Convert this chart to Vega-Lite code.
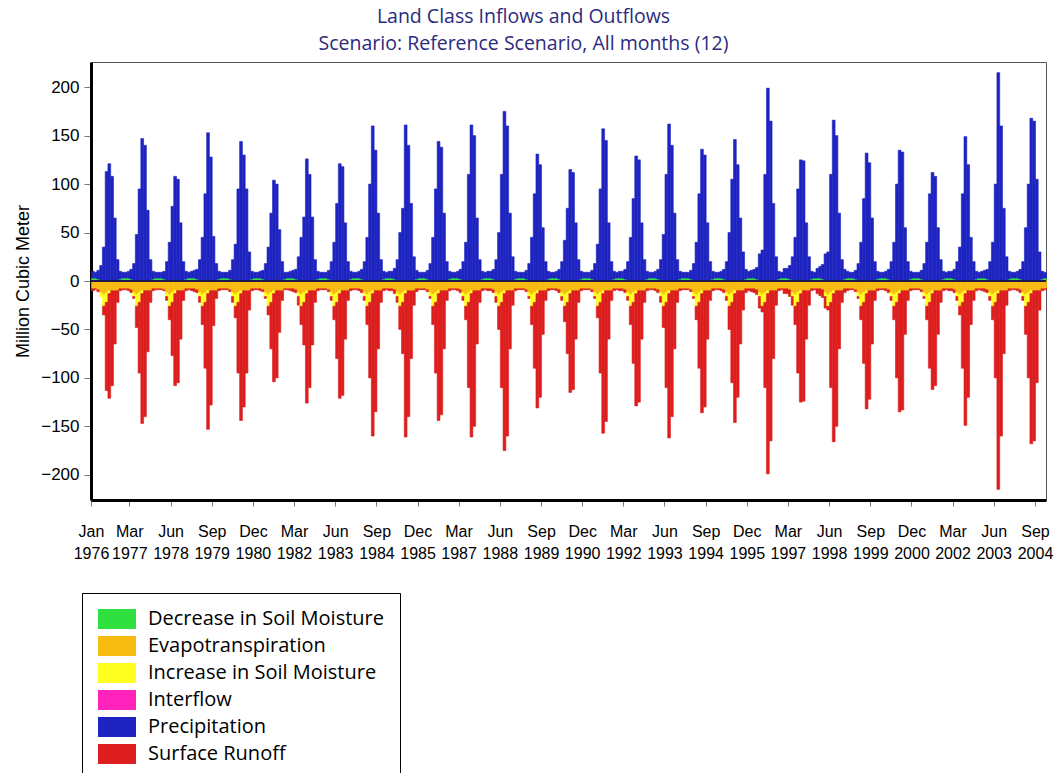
{
"$schema": "https://vega.github.io/schema/vega-lite/v6.json",
"width": 955,
"height": 438,
"autosize": {"type": "none"},
"padding": {"left": 91, "top": 62, "right": 12, "bottom": 273},
"background": "white",
"title": {"text": ["Land Class Inflows and Outflows", "Scenario: Reference Scenario,  All months (12)"], "font": "Open Sans", "fontSize": 19.5, "fontWeight": "normal", "color": "#2b2b7d", "anchor": "middle", "dx": -45, "lineHeight": 26.5, "offset": 8},
"config": {"view": {"stroke": "#555555", "strokeWidth": 1}},
"layer": [
{
"data": {"values": [
{"d":"1976-01","pre":7,"dec":3,"et":-8,"run":-2},
{"d":"1976-02","pre":6,"dec":3,"et":-8,"run":-1},
{"d":"1976-03","pre":9,"dec":2,"et":-9,"run":-2},
{"d":"1976-04","pre":16,"et":-12,"inc":-4,"run":0},
{"d":"1976-05","pre":35,"et":-14,"inc":-12,"run":-9},
{"d":"1976-06","pre":113,"et":-12,"inc":-10,"run":-91},
{"d":"1976-07","pre":121,"et":-10,"inc":-3,"run":-108},
{"d":"1976-08","pre":108,"et":-10,"run":-98},
{"d":"1976-09","pre":65,"et":-10,"run":-55},
{"d":"1976-10","pre":22,"et":-10,"run":-12},
{"d":"1976-11","pre":8,"dec":2,"et":-8,"run":-2},
{"d":"1976-12","pre":6,"dec":3,"et":-8,"run":-1},
{"d":"1977-01","pre":6,"dec":3,"et":-8,"run":-1},
{"d":"1977-02","pre":7,"dec":3,"et":-8,"run":-2},
{"d":"1977-03","pre":10,"dec":2,"et":-9,"run":-3},
{"d":"1977-04","pre":18,"et":-12,"inc":-4,"run":-2},
{"d":"1977-05","pre":48,"et":-14,"inc":-12,"run":-22},
{"d":"1977-06","pre":95,"et":-12,"inc":-10,"run":-73},
{"d":"1977-07","pre":147,"et":-10,"inc":-3,"run":-134},
{"d":"1977-08","pre":140,"et":-10,"run":-130},
{"d":"1977-09","pre":73,"et":-10,"run":-63},
{"d":"1977-10","pre":22,"et":-10,"run":-12},
{"d":"1977-11","pre":8,"dec":2,"et":-8,"run":-2},
{"d":"1977-12","pre":6,"dec":3,"et":-8,"run":-1},
{"d":"1978-01","pre":6,"dec":3,"et":-8,"run":-1},
{"d":"1978-02","pre":6,"dec":3,"et":-8,"run":-1},
{"d":"1978-03","pre":8,"dec":2,"et":-9,"run":-1},
{"d":"1978-04","pre":20,"et":-12,"inc":-4,"run":-4},
{"d":"1978-05","pre":40,"et":-14,"inc":-12,"run":-14},
{"d":"1978-06","pre":77,"et":-12,"inc":-10,"run":-55},
{"d":"1978-07","pre":108,"et":-10,"inc":-3,"run":-95},
{"d":"1978-08","pre":105,"et":-10,"run":-95},
{"d":"1978-09","pre":60,"et":-10,"run":-50},
{"d":"1978-10","pre":20,"et":-10,"run":-10},
{"d":"1978-11","pre":8,"dec":2,"et":-8,"run":-2},
{"d":"1978-12","pre":6,"dec":3,"et":-8,"run":-1},
{"d":"1979-01","pre":7,"dec":3,"et":-8,"run":-2},
{"d":"1979-02","pre":8,"dec":3,"et":-8,"run":-3},
{"d":"1979-03","pre":10,"dec":2,"et":-9,"run":-3},
{"d":"1979-04","pre":22,"et":-12,"inc":-4,"run":-6},
{"d":"1979-05","pre":45,"et":-14,"inc":-12,"run":-19},
{"d":"1979-06","pre":90,"et":-12,"inc":-10,"run":-68},
{"d":"1979-07","pre":153,"et":-10,"inc":-3,"run":-140},
{"d":"1979-08","pre":128,"et":-10,"run":-118},
{"d":"1979-09","pre":46,"et":-10,"run":-36},
{"d":"1979-10","pre":18,"et":-10,"run":-8},
{"d":"1979-11","pre":8,"dec":2,"et":-8,"run":-2},
{"d":"1979-12","pre":6,"dec":3,"et":-8,"run":-1},
{"d":"1980-01","pre":6,"dec":3,"et":-8,"run":-1},
{"d":"1980-02","pre":6,"dec":3,"et":-8,"run":-1},
{"d":"1980-03","pre":9,"dec":2,"et":-9,"run":-2},
{"d":"1980-04","pre":22,"et":-12,"inc":-4,"run":-6},
{"d":"1980-05","pre":38,"et":-14,"inc":-12,"run":-12},
{"d":"1980-06","pre":95,"et":-12,"inc":-10,"run":-73},
{"d":"1980-07","pre":144,"et":-10,"inc":-3,"run":-131},
{"d":"1980-08","pre":130,"et":-10,"run":-120},
{"d":"1980-09","pre":95,"et":-10,"run":-85},
{"d":"1980-10","pre":30,"et":-10,"run":-20},
{"d":"1980-11","pre":8,"dec":2,"et":-8,"run":-2},
{"d":"1980-12","pre":6,"dec":3,"et":-8,"run":-1},
{"d":"1981-01","pre":6,"dec":3,"et":-8,"run":-1},
{"d":"1981-02","pre":7,"dec":3,"et":-8,"run":-2},
{"d":"1981-03","pre":9,"dec":2,"et":-9,"run":-2},
{"d":"1981-04","pre":18,"et":-12,"inc":-4,"run":-2},
{"d":"1981-05","pre":35,"et":-14,"inc":-12,"run":-9},
{"d":"1981-06","pre":70,"et":-12,"inc":-10,"run":-48},
{"d":"1981-07","pre":104,"et":-10,"inc":-3,"run":-91},
{"d":"1981-08","pre":100,"et":-10,"run":-90},
{"d":"1981-09","pre":53,"et":-10,"run":-43},
{"d":"1981-10","pre":20,"et":-10,"run":-10},
{"d":"1981-11","pre":7,"dec":2,"et":-8,"run":-1},
{"d":"1981-12","pre":6,"dec":3,"et":-8,"run":-1},
{"d":"1982-01","pre":7,"dec":3,"et":-8,"run":-2},
{"d":"1982-02","pre":8,"dec":3,"et":-8,"run":-3},
{"d":"1982-03","pre":10,"dec":2,"et":-9,"run":-3},
{"d":"1982-04","pre":25,"et":-12,"inc":-4,"run":-9},
{"d":"1982-05","pre":45,"et":-14,"inc":-12,"run":-19},
{"d":"1982-06","pre":66,"et":-12,"inc":-10,"run":-44},
{"d":"1982-07","pre":126,"et":-10,"inc":-3,"run":-113},
{"d":"1982-08","pre":110,"et":-10,"run":-100},
{"d":"1982-09","pre":66,"et":-10,"run":-56},
{"d":"1982-10","pre":22,"et":-10,"run":-12},
{"d":"1982-11","pre":8,"dec":2,"et":-8,"run":-2},
{"d":"1982-12","pre":6,"dec":3,"et":-8,"run":-1},
{"d":"1983-01","pre":6,"dec":3,"et":-8,"run":-1},
{"d":"1983-02","pre":6,"dec":3,"et":-8,"run":-1},
{"d":"1983-03","pre":9,"dec":2,"et":-9,"run":-2},
{"d":"1983-04","pre":20,"et":-12,"inc":-4,"run":-4},
{"d":"1983-05","pre":40,"et":-14,"inc":-12,"run":-14},
{"d":"1983-06","pre":80,"et":-12,"inc":-10,"run":-58},
{"d":"1983-07","pre":121,"et":-10,"inc":-3,"run":-108},
{"d":"1983-08","pre":118,"et":-10,"run":-108},
{"d":"1983-09","pre":60,"et":-10,"run":-50},
{"d":"1983-10","pre":20,"et":-10,"run":-10},
{"d":"1983-11","pre":8,"dec":2,"et":-8,"run":-2},
{"d":"1983-12","pre":6,"dec":3,"et":-8,"run":-1},
{"d":"1984-01","pre":6,"dec":3,"et":-8,"run":-1},
{"d":"1984-02","pre":7,"dec":3,"et":-8,"run":-2},
{"d":"1984-03","pre":10,"dec":2,"et":-9,"run":-3},
{"d":"1984-04","pre":20,"et":-12,"inc":-4,"run":-4},
{"d":"1984-05","pre":45,"et":-14,"inc":-12,"run":-19},
{"d":"1984-06","pre":100,"et":-12,"inc":-10,"run":-78},
{"d":"1984-07","pre":160,"et":-10,"inc":-3,"run":-147},
{"d":"1984-08","pre":135,"et":-10,"run":-125},
{"d":"1984-09","pre":70,"et":-10,"run":-60},
{"d":"1984-10","pre":22,"et":-10,"run":-12},
{"d":"1984-11","pre":8,"dec":2,"et":-8,"run":-2},
{"d":"1984-12","pre":6,"dec":3,"et":-8,"run":-1},
{"d":"1985-01","pre":7,"dec":3,"et":-8,"run":-2},
{"d":"1985-02","pre":7,"dec":3,"et":-8,"run":-2},
{"d":"1985-03","pre":11,"dec":2,"et":-9,"run":-4},
{"d":"1985-04","pre":22,"et":-12,"inc":-4,"run":-6},
{"d":"1985-05","pre":50,"et":-14,"inc":-12,"run":-24},
{"d":"1985-06","pre":75,"et":-12,"inc":-10,"run":-53},
{"d":"1985-07","pre":161,"et":-10,"inc":-3,"run":-148},
{"d":"1985-08","pre":140,"et":-10,"run":-130},
{"d":"1985-09","pre":80,"et":-10,"run":-70},
{"d":"1985-10","pre":25,"et":-10,"run":-15},
{"d":"1985-11","pre":9,"dec":2,"et":-8,"run":-3},
{"d":"1985-12","pre":6,"dec":3,"et":-8,"run":-1},
{"d":"1986-01","pre":6,"dec":3,"et":-8,"run":-1},
{"d":"1986-02","pre":6,"dec":3,"et":-8,"run":-1},
{"d":"1986-03","pre":9,"dec":2,"et":-9,"run":-2},
{"d":"1986-04","pre":18,"et":-12,"inc":-4,"run":-2},
{"d":"1986-05","pre":45,"et":-14,"inc":-12,"run":-19},
{"d":"1986-06","pre":95,"et":-12,"inc":-10,"run":-73},
{"d":"1986-07","pre":144,"et":-10,"inc":-3,"run":-131},
{"d":"1986-08","pre":138,"et":-10,"run":-128},
{"d":"1986-09","pre":70,"et":-10,"run":-60},
{"d":"1986-10","pre":20,"et":-10,"run":-10},
{"d":"1986-11","pre":8,"dec":2,"et":-8,"run":-2},
{"d":"1986-12","pre":6,"dec":3,"et":-8,"run":-1},
{"d":"1987-01","pre":6,"dec":3,"et":-8,"run":-1},
{"d":"1987-02","pre":7,"dec":3,"et":-8,"run":-2},
{"d":"1987-03","pre":10,"dec":2,"et":-9,"run":-3},
{"d":"1987-04","pre":20,"et":-12,"inc":-4,"run":-4},
{"d":"1987-05","pre":40,"et":-14,"inc":-12,"run":-14},
{"d":"1987-06","pre":110,"et":-12,"inc":-10,"run":-88},
{"d":"1987-07","pre":161,"et":-10,"inc":-3,"run":-148},
{"d":"1987-08","pre":150,"et":-10,"run":-140},
{"d":"1987-09","pre":65,"et":-10,"run":-55},
{"d":"1987-10","pre":22,"et":-10,"run":-12},
{"d":"1987-11","pre":8,"dec":2,"et":-8,"run":-2},
{"d":"1987-12","pre":6,"dec":3,"et":-8,"run":-1},
{"d":"1988-01","pre":7,"dec":3,"et":-8,"run":-2},
{"d":"1988-02","pre":7,"dec":3,"et":-8,"run":-2},
{"d":"1988-03","pre":10,"dec":2,"et":-9,"run":-3},
{"d":"1988-04","pre":22,"et":-12,"inc":-4,"run":-6},
{"d":"1988-05","pre":50,"et":-14,"inc":-12,"run":-24},
{"d":"1988-06","pre":110,"et":-12,"inc":-10,"run":-88},
{"d":"1988-07","pre":175,"et":-10,"inc":-3,"run":-162},
{"d":"1988-08","pre":160,"et":-10,"run":-150},
{"d":"1988-09","pre":70,"et":-10,"run":-60},
{"d":"1988-10","pre":25,"et":-10,"run":-15},
{"d":"1988-11","pre":8,"dec":2,"et":-8,"run":-2},
{"d":"1988-12","pre":6,"dec":3,"et":-8,"run":-1},
{"d":"1989-01","pre":6,"dec":3,"et":-8,"run":-1},
{"d":"1989-02","pre":6,"dec":3,"et":-8,"run":-1},
{"d":"1989-03","pre":9,"dec":2,"et":-9,"run":-2},
{"d":"1989-04","pre":18,"et":-12,"inc":-4,"run":-2},
{"d":"1989-05","pre":45,"et":-14,"inc":-12,"run":-19},
{"d":"1989-06","pre":90,"et":-12,"inc":-10,"run":-68},
{"d":"1989-07","pre":131,"et":-10,"inc":-3,"run":-118},
{"d":"1989-08","pre":120,"et":-10,"run":-110},
{"d":"1989-09","pre":55,"et":-10,"run":-45},
{"d":"1989-10","pre":20,"et":-10,"run":-10},
{"d":"1989-11","pre":8,"dec":2,"et":-8,"run":-2},
{"d":"1989-12","pre":6,"dec":3,"et":-8,"run":-1},
{"d":"1990-01","pre":6,"dec":3,"et":-8,"run":-1},
{"d":"1990-02","pre":7,"dec":3,"et":-8,"run":-2},
{"d":"1990-03","pre":10,"dec":2,"et":-9,"run":-3},
{"d":"1990-04","pre":20,"et":-12,"inc":-4,"run":-4},
{"d":"1990-05","pre":42,"et":-14,"inc":-12,"run":-16},
{"d":"1990-06","pre":75,"et":-12,"inc":-10,"run":-53},
{"d":"1990-07","pre":115,"et":-10,"inc":-3,"run":-102},
{"d":"1990-08","pre":112,"et":-10,"run":-102},
{"d":"1990-09","pre":60,"et":-10,"run":-50},
{"d":"1990-10","pre":22,"et":-10,"run":-12},
{"d":"1990-11","pre":8,"dec":2,"et":-8,"run":-2},
{"d":"1990-12","pre":6,"dec":3,"et":-8,"run":-1},
{"d":"1991-01","pre":6,"dec":3,"et":-8,"run":-1},
{"d":"1991-02","pre":6,"dec":3,"et":-8,"run":-1},
{"d":"1991-03","pre":9,"dec":2,"et":-9,"run":-2},
{"d":"1991-04","pre":18,"et":-12,"inc":-4,"run":-2},
{"d":"1991-05","pre":38,"et":-14,"inc":-12,"run":-12},
{"d":"1991-06","pre":95,"et":-12,"inc":-10,"run":-73},
{"d":"1991-07","pre":157,"et":-10,"inc":-3,"run":-144},
{"d":"1991-08","pre":145,"et":-10,"run":-135},
{"d":"1991-09","pre":60,"et":-10,"run":-50},
{"d":"1991-10","pre":20,"et":-10,"run":-10},
{"d":"1991-11","pre":8,"dec":2,"et":-8,"run":-2},
{"d":"1991-12","pre":6,"dec":3,"et":-8,"run":-1},
{"d":"1992-01","pre":7,"dec":3,"et":-8,"run":-2},
{"d":"1992-02","pre":7,"dec":3,"et":-8,"run":-2},
{"d":"1992-03","pre":10,"dec":2,"et":-9,"run":-3},
{"d":"1992-04","pre":20,"et":-12,"inc":-4,"run":-4},
{"d":"1992-05","pre":45,"et":-14,"inc":-12,"run":-19},
{"d":"1992-06","pre":85,"et":-12,"inc":-10,"run":-63},
{"d":"1992-07","pre":129,"et":-10,"inc":-3,"run":-116},
{"d":"1992-08","pre":125,"et":-10,"run":-115},
{"d":"1992-09","pre":60,"et":-10,"run":-50},
{"d":"1992-10","pre":22,"et":-10,"run":-12},
{"d":"1992-11","pre":8,"dec":2,"et":-8,"run":-2},
{"d":"1992-12","pre":6,"dec":3,"et":-8,"run":-1},
{"d":"1993-01","pre":6,"dec":3,"et":-8,"run":-1},
{"d":"1993-02","pre":7,"dec":3,"et":-8,"run":-2},
{"d":"1993-03","pre":10,"dec":2,"et":-9,"run":-3},
{"d":"1993-04","pre":22,"et":-12,"inc":-4,"run":-6},
{"d":"1993-05","pre":48,"et":-14,"inc":-12,"run":-22},
{"d":"1993-06","pre":110,"et":-12,"inc":-10,"run":-88},
{"d":"1993-07","pre":162,"et":-10,"inc":-3,"run":-149},
{"d":"1993-08","pre":140,"et":-10,"run":-130},
{"d":"1993-09","pre":70,"et":-10,"run":-60},
{"d":"1993-10","pre":22,"et":-10,"run":-12},
{"d":"1993-11","pre":8,"dec":2,"et":-8,"run":-2},
{"d":"1993-12","pre":6,"dec":3,"et":-8,"run":-1},
{"d":"1994-01","pre":6,"dec":3,"et":-8,"run":-1},
{"d":"1994-02","pre":6,"dec":3,"et":-8,"run":-1},
{"d":"1994-03","pre":9,"dec":2,"et":-9,"run":-2},
{"d":"1994-04","pre":18,"et":-12,"inc":-4,"run":-2},
{"d":"1994-05","pre":40,"et":-14,"inc":-12,"run":-14},
{"d":"1994-06","pre":90,"et":-12,"inc":-10,"run":-68},
{"d":"1994-07","pre":136,"et":-10,"inc":-3,"run":-123},
{"d":"1994-08","pre":130,"et":-10,"run":-120},
{"d":"1994-09","pre":60,"et":-10,"run":-50},
{"d":"1994-10","pre":20,"et":-10,"run":-10},
{"d":"1994-11","pre":8,"dec":2,"et":-8,"run":-2},
{"d":"1994-12","pre":6,"dec":3,"et":-8,"run":-1},
{"d":"1995-01","pre":6,"dec":3,"et":-8,"run":-1},
{"d":"1995-02","pre":7,"dec":3,"et":-8,"run":-2},
{"d":"1995-03","pre":10,"dec":2,"et":-9,"run":-3},
{"d":"1995-04","pre":20,"et":-12,"inc":-4,"run":-4},
{"d":"1995-05","pre":50,"et":-14,"inc":-12,"run":-24},
{"d":"1995-06","pre":105,"et":-12,"inc":-10,"run":-83},
{"d":"1995-07","pre":146,"et":-10,"inc":-3,"run":-133},
{"d":"1995-08","pre":120,"et":-10,"run":-110},
{"d":"1995-09","pre":65,"et":-10,"run":-55},
{"d":"1995-10","pre":30,"et":-10,"run":-20},
{"d":"1995-11","pre":10,"dec":2,"et":-8,"run":-4},
{"d":"1995-12","pre":7,"dec":3,"et":-8,"run":-2},
{"d":"1996-01","pre":8,"dec":3,"et":-8,"run":-3},
{"d":"1996-02","pre":9,"dec":3,"et":-8,"run":-4},
{"d":"1996-03","pre":12,"dec":2,"et":-9,"run":-5},
{"d":"1996-04","pre":28,"et":-12,"inc":-4,"run":-12},
{"d":"1996-05","pre":32,"et":-14,"inc":-12,"run":-6},
{"d":"1996-06","pre":110,"et":-12,"inc":-10,"run":-88},
{"d":"1996-07","pre":199,"et":-10,"inc":-3,"run":-186},
{"d":"1996-08","pre":165,"et":-10,"run":-155},
{"d":"1996-09","pre":80,"et":-10,"run":-70},
{"d":"1996-10","pre":25,"et":-10,"run":-15},
{"d":"1996-11","pre":8,"dec":2,"et":-8,"run":-2},
{"d":"1996-12","pre":6,"dec":3,"et":-8,"run":-1},
{"d":"1997-01","pre":10,"dec":3,"et":-8,"run":-5},
{"d":"1997-02","pre":10,"dec":3,"et":-8,"run":-5},
{"d":"1997-03","pre":14,"dec":2,"et":-9,"run":-7},
{"d":"1997-04","pre":25,"et":-12,"inc":-4,"run":-9},
{"d":"1997-05","pre":45,"et":-14,"inc":-12,"run":-19},
{"d":"1997-06","pre":95,"et":-12,"inc":-10,"run":-73},
{"d":"1997-07","pre":125,"et":-10,"inc":-3,"run":-112},
{"d":"1997-08","pre":124,"et":-10,"run":-114},
{"d":"1997-09","pre":60,"et":-10,"run":-50},
{"d":"1997-10","pre":25,"et":-10,"run":-15},
{"d":"1997-11","pre":8,"dec":2,"et":-8,"run":-2},
{"d":"1997-12","pre":6,"dec":3,"et":-8,"run":-1},
{"d":"1998-01","pre":10,"dec":3,"et":-8,"run":-5},
{"d":"1998-02","pre":12,"dec":3,"et":-8,"run":-7},
{"d":"1998-03","pre":15,"dec":2,"et":-9,"run":-8},
{"d":"1998-04","pre":28,"et":-12,"inc":-4,"run":-12},
{"d":"1998-05","pre":30,"et":-14,"inc":-12,"run":-4},
{"d":"1998-06","pre":110,"et":-12,"inc":-10,"run":-88},
{"d":"1998-07","pre":166,"et":-10,"inc":-3,"run":-153},
{"d":"1998-08","pre":150,"et":-10,"run":-140},
{"d":"1998-09","pre":70,"et":-10,"run":-60},
{"d":"1998-10","pre":22,"et":-10,"run":-12},
{"d":"1998-11","pre":10,"dec":2,"et":-8,"run":-4},
{"d":"1998-12","pre":7,"dec":3,"et":-8,"run":-2},
{"d":"1999-01","pre":6,"dec":3,"et":-8,"run":-1},
{"d":"1999-02","pre":6,"dec":3,"et":-8,"run":-1},
{"d":"1999-03","pre":9,"dec":2,"et":-9,"run":-2},
{"d":"1999-04","pre":18,"et":-12,"inc":-4,"run":-2},
{"d":"1999-05","pre":40,"et":-14,"inc":-12,"run":-14},
{"d":"1999-06","pre":85,"et":-12,"inc":-10,"run":-63},
{"d":"1999-07","pre":132,"et":-10,"inc":-3,"run":-119},
{"d":"1999-08","pre":122,"et":-10,"run":-112},
{"d":"1999-09","pre":65,"et":-10,"run":-55},
{"d":"1999-10","pre":20,"et":-10,"run":-10},
{"d":"1999-11","pre":8,"dec":2,"et":-8,"run":-2},
{"d":"1999-12","pre":6,"dec":3,"et":-8,"run":-1},
{"d":"2000-01","pre":6,"dec":3,"et":-8,"run":-1},
{"d":"2000-02","pre":7,"dec":3,"et":-8,"run":-2},
{"d":"2000-03","pre":10,"dec":2,"et":-9,"run":-3},
{"d":"2000-04","pre":20,"et":-12,"inc":-4,"run":-4},
{"d":"2000-05","pre":40,"et":-14,"inc":-12,"run":-14},
{"d":"2000-06","pre":100,"et":-12,"inc":-10,"run":-78},
{"d":"2000-07","pre":135,"et":-10,"inc":-3,"run":-122},
{"d":"2000-08","pre":133,"et":-10,"run":-123},
{"d":"2000-09","pre":55,"et":-10,"run":-45},
{"d":"2000-10","pre":20,"et":-10,"run":-10},
{"d":"2000-11","pre":8,"dec":2,"et":-8,"run":-2},
{"d":"2000-12","pre":6,"dec":3,"et":-8,"run":-1},
{"d":"2001-01","pre":6,"dec":3,"et":-8,"run":-1},
{"d":"2001-02","pre":6,"dec":3,"et":-8,"run":-1},
{"d":"2001-03","pre":9,"dec":2,"et":-9,"run":-2},
{"d":"2001-04","pre":18,"et":-12,"inc":-4,"run":-2},
{"d":"2001-05","pre":40,"et":-14,"inc":-12,"run":-14},
{"d":"2001-06","pre":90,"et":-12,"inc":-10,"run":-68},
{"d":"2001-07","pre":112,"et":-10,"inc":-3,"run":-99},
{"d":"2001-08","pre":108,"et":-10,"run":-98},
{"d":"2001-09","pre":55,"et":-10,"run":-45},
{"d":"2001-10","pre":22,"et":-10,"run":-12},
{"d":"2001-11","pre":8,"dec":2,"et":-8,"run":-2},
{"d":"2001-12","pre":6,"dec":3,"et":-8,"run":-1},
{"d":"2002-01","pre":7,"dec":3,"et":-8,"run":-2},
{"d":"2002-02","pre":7,"dec":3,"et":-8,"run":-2},
{"d":"2002-03","pre":10,"dec":2,"et":-9,"run":-3},
{"d":"2002-04","pre":20,"et":-12,"inc":-4,"run":-4},
{"d":"2002-05","pre":35,"et":-14,"inc":-12,"run":-9},
{"d":"2002-06","pre":90,"et":-12,"inc":-10,"run":-68},
{"d":"2002-07","pre":149,"et":-10,"inc":-3,"run":-136},
{"d":"2002-08","pre":120,"et":-10,"run":-110},
{"d":"2002-09","pre":45,"et":-10,"run":-35},
{"d":"2002-10","pre":20,"et":-10,"run":-10},
{"d":"2002-11","pre":8,"dec":2,"et":-8,"run":-2},
{"d":"2002-12","pre":6,"dec":3,"et":-8,"run":-1},
{"d":"2003-01","pre":7,"dec":3,"et":-8,"run":-2},
{"d":"2003-02","pre":8,"dec":3,"et":-8,"run":-3},
{"d":"2003-03","pre":10,"dec":2,"et":-9,"run":-3},
{"d":"2003-04","pre":20,"et":-12,"inc":-4,"run":-4},
{"d":"2003-05","pre":40,"et":-14,"inc":-12,"run":-14},
{"d":"2003-06","pre":100,"et":-12,"inc":-10,"run":-78},
{"d":"2003-07","pre":215,"et":-10,"inc":-3,"run":-202},
{"d":"2003-08","pre":160,"et":-10,"run":-150},
{"d":"2003-09","pre":75,"et":-10,"run":-65},
{"d":"2003-10","pre":25,"et":-10,"run":-15},
{"d":"2003-11","pre":8,"dec":2,"et":-8,"run":-2},
{"d":"2003-12","pre":6,"dec":3,"et":-8,"run":-1},
{"d":"2004-01","pre":6,"dec":3,"et":-8,"run":-1},
{"d":"2004-02","pre":7,"dec":3,"et":-8,"run":-2},
{"d":"2004-03","pre":10,"dec":2,"et":-9,"run":-3},
{"d":"2004-04","pre":20,"et":-12,"inc":-4,"run":-4},
{"d":"2004-05","pre":55,"et":-14,"inc":-12,"run":-29},
{"d":"2004-06","pre":100,"et":-12,"inc":-10,"run":-78},
{"d":"2004-07","pre":168,"et":-10,"inc":-3,"run":-155},
{"d":"2004-08","pre":165,"et":-10,"run":-155},
{"d":"2004-09","pre":105,"et":-10,"run":-95},
{"d":"2004-10","pre":30,"et":-10,"run":-20},
{"d":"2004-11","pre":8,"dec":2,"et":-8,"run":-2},
{"d":"2004-12","pre":6,"dec":3,"et":-8,"run":-1}
]},
"transform": [
{"fold": ["dec", "et", "inc", "int", "pre", "run"], "as": ["k", "v"]},
{"filter": "isValid(datum.v) && datum.v != 0"}
],
"mark": {"type": "bar", "strokeWidth": 0.6, "binSpacing": 0},
"encoding": {
"x": {"field": "d", "type": "temporal", "timeUnit": "utcyearmonth", "title": null,
"scale": {"type": "utc", "domain": [{"year": 1976, "month": 1, "date": 1, "utc": true}, {"year": 2005, "month": 1, "date": 1, "utc": true}], "nice": false},
"axis": {"values": [
{"year":1976,"month":1,"date":1,"utc":true},{"year":1977,"month":3,"date":1,"utc":true},{"year":1978,"month":6,"date":1,"utc":true},{"year":1979,"month":9,"date":1,"utc":true},{"year":1980,"month":12,"date":1,"utc":true},{"year":1982,"month":3,"date":1,"utc":true},{"year":1983,"month":6,"date":1,"utc":true},{"year":1984,"month":9,"date":1,"utc":true},{"year":1985,"month":12,"date":1,"utc":true},{"year":1987,"month":3,"date":1,"utc":true},{"year":1988,"month":6,"date":1,"utc":true},{"year":1989,"month":9,"date":1,"utc":true},{"year":1990,"month":12,"date":1,"utc":true},{"year":1992,"month":3,"date":1,"utc":true},{"year":1993,"month":6,"date":1,"utc":true},{"year":1994,"month":9,"date":1,"utc":true},{"year":1995,"month":12,"date":1,"utc":true},{"year":1997,"month":3,"date":1,"utc":true},{"year":1998,"month":6,"date":1,"utc":true},{"year":1999,"month":9,"date":1,"utc":true},{"year":2000,"month":12,"date":1,"utc":true},{"year":2002,"month":3,"date":1,"utc":true},{"year":2003,"month":6,"date":1,"utc":true},{"year":2004,"month":9,"date":1,"utc":true}],
"labelExpr": "[utcFormat(datum.value, '%b'), utcFormat(datum.value, '%Y')]",
"labelAngle": 0, "labelFont": "Liberation Sans", "labelFontSize": 16, "labelColor": "black", "labelPadding": 17, "labelLineHeight": 22, "labelBaseline": "top", "labelAlign": "center", "labelOverlap": false, "labelBound": false, "labelFlush": false,
"domainColor": "black", "domainWidth": 3, "tickColor": "#777777", "tickSize": 6, "grid": false}},
"y": {"field": "v", "type": "quantitative", "stack": "zero",
"scale": {"domain": [-226, 226], "nice": false, "zero": true},
"axis": {"values": [-200, -150, -100, -50, 0, 50, 100, 150, 200], "title": "Million Cubic Meter",
"titleFont": "Liberation Sans", "titleFontSize": 18, "titleFontWeight": "normal", "titleColor": "black", "titlePadding": 8,
"labelFont": "Liberation Sans", "labelFontSize": 17, "labelColor": "black", "labelPadding": 5,
"domainColor": "black", "domainWidth": 3, "tickColor": "#777777", "tickSize": 7, "grid": false}},
"order": {"field": "k", "sort": "ascending"},
"color": {"field": "k", "type": "nominal",
"scale": {"domain": ["dec", "et", "inc", "int", "pre", "run"], "range": ["#30e040", "#f8bb10", "#ffff22", "#ff22bb", "#1e24c0", "#dc1e1e"]},
"legend": {"orient": "none", "legendX": -9, "legendY": 531, "title": null,
"labelExpr": "datum.label == 'dec' ? 'Decrease in Soil Moisture' : datum.label == 'et' ? 'Evapotranspiration' : datum.label == 'inc' ? 'Increase in Soil Moisture' : datum.label == 'int' ? 'Interflow' : datum.label == 'pre' ? 'Precipitation' : 'Surface Runoff'",
"labelFont": "Open Sans", "labelFontSize": 20, "labelColor": "black", "labelLimit": 400, "labelOffset": 30,
"symbolType": "M-1,-1H2.8V1H-1Z", "symbolSize": 400, "symbolStrokeWidth": 0, "symbolOpacity": 1,
"rowPadding": 7, "padding": 16, "strokeColor": "black", "fillColor": "white"}},
"stroke": {"field": "k", "type": "nominal", "legend": null,
"scale": {"domain": ["dec", "et", "inc", "int", "pre", "run"], "range": ["#30e040", "#f8bb10", "#ffff22", "#ff22bb", "#1e24c0", "#dc1e1e"]}}
}
},
{
"data": {"values": [{}]},
"mark": {"type": "rule", "color": "#1a1a50", "strokeWidth": 2},
"encoding": {"y": {"datum": 0}}
}
]
}
